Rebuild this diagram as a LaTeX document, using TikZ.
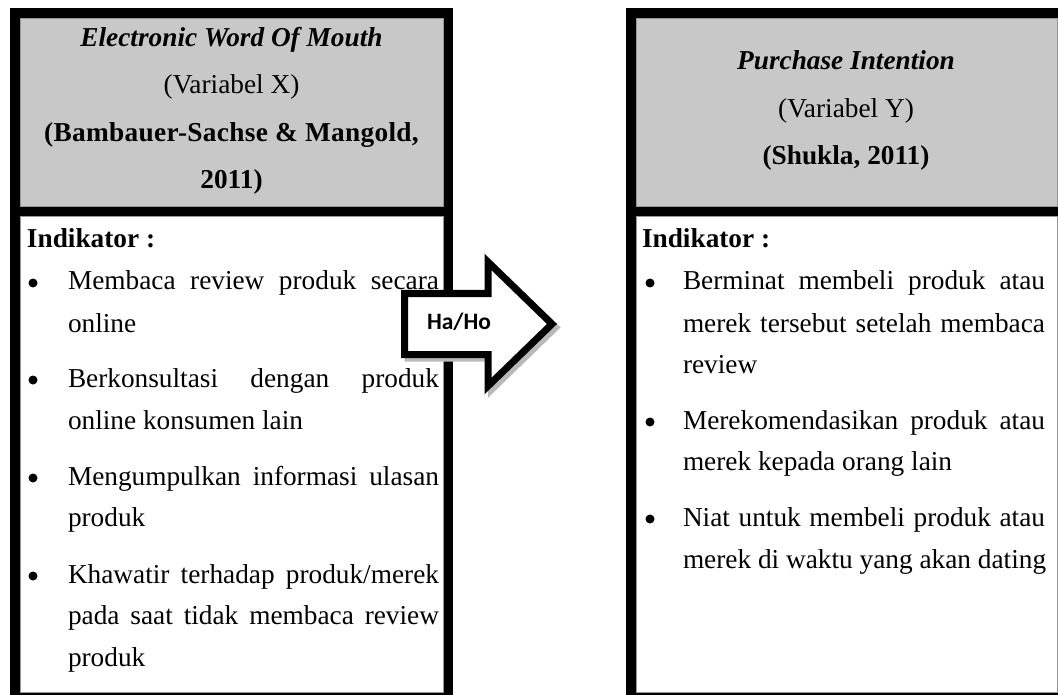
\documentclass[tikz,border=0pt]{standalone}
\usepackage{fontspec}
\setmainfont{Liberation Serif}
\newfontfamily\arrowfont{Carlito}
\newfontfamily\spacedfont[LetterSpace=1.2]{Liberation Serif}
\definecolor{hdrgray}{RGB}{200,200,200}
\definecolor{edgegray}{RGB}{150,150,150}
\definecolor{shadowgray}{RGB}{185,185,185}
\newcommand\jline[2]{\makebox[#1][s]{#2}}
\begin{document}
\begin{tikzpicture}[x=1pt,y=-1pt,
  txt/.style={anchor=base west, inner sep=0pt, outer sep=0pt, font=\fontsize{27.3}{31}\selectfont},
  hdr/.style={anchor=base, inner sep=0pt, outer sep=0pt, font=\fontsize{27.3}{31}\selectfont},
  bul/.style={circle, fill=black, inner sep=0pt, minimum size=9pt},
  hdrfill/.style={fill=hdrgray, draw=edgegray, line width=0.8pt},
  bodyfill/.style={fill=white, draw=edgegray, line width=0.8pt},
  arrowshape/.style={line width=7pt, line join=miter}]
\useasboundingbox (0,0) rectangle (1058,695);
\clip (0,0) rectangle (1058,695);
\fill[white] (0,0) rectangle (1058,695);

% left box
\fill[black] (10,8) rectangle (453,705);
\filldraw[hdrfill] (20,18) rectangle (443,206);
\filldraw[bodyfill] (20,216) rectangle (443,692);

% right box
\fill[black] (626,8) rectangle (1070,705);
\filldraw[hdrfill] (636,18) rectangle (1057,206);
\filldraw[bodyfill] (636,216) rectangle (1057,692);

% left header
\node[hdr] (lh1) at (231.5,46.5) {\textbf{\textit{Electronic Word Of Mouth}}};
\node[hdr] (lh2) at (231.5,94) {(Variabel X)};
\node[hdr] (lh3) at (231.5,141.5) {\spacedfont\bfseries (Bambauer-Sachse \& Mangold,};
\node[hdr] (lh4) at (231.5,189) {\textbf{2011)}};

% right header
\node[hdr] (rh1) at (846,70) {\textbf{\textit{Purchase Intention}}};
\node[hdr] (rh2) at (846,118) {(Variabel Y)};
\node[hdr] (rh3) at (846,165) {\textbf{(Shukla, 2011)}};

% left body
\node[txt] (li) at (27,248) {\textbf{Indikator :}};
\node[bul] (lb1) at (33,283) {};
\node[txt] (l1) at (68,290) {\jline{371pt}{Membaca review produk secara}};
\node[txt] (l2) at (68,332) {online};
\node[bul] (lb2) at (33,380) {};
\node[txt] (l3) at (68,387) {\jline{371pt}{Berkonsultasi dengan produk}};
\node[txt] (l4) at (68,429) {online konsumen lain};
\node[bul] (lb3) at (33,478) {};
\node[txt] (l5) at (68,485) {\jline{371pt}{Mengumpulkan informasi ulasan}};
\node[txt] (l6) at (68,526) {produk};
\node[bul] (lb4) at (33,576) {};
\node[txt] (l7) at (68,583) {\jline{371pt}{Khawatir terhadap produk/merek}};
\node[txt] (l8) at (68,624) {\jline{371pt}{pada saat tidak membaca review}};
\node[txt] (l9) at (68,666) {produk};

% right body
\node[txt] (ri) at (642,248) {\textbf{Indikator :}};
\node[bul] (rb1) at (650,283) {};
\node[txt] (r1) at (683,290) {\jline{362pt}{Berminat membeli produk atau}};
\node[txt] (r2) at (683,332) {\jline{362pt}{merek tersebut setelah membaca}};
\node[txt] (r3) at (683,373) {review};
\node[bul] (rb2) at (650,422) {};
\node[txt] (r4) at (683,429) {\jline{362pt}{Merekomendasikan produk atau}};
\node[txt] (r5) at (683,470) {merek kepada orang lain};
\node[bul] (rb3) at (650,519) {};
\node[txt] (r6) at (683,526) {\jline{362pt}{Niat untuk membeli produk atau}};
\node[txt] (r7) at (683,568) {merek di waktu yang akan dating};

% block arrow
\begin{scope}[shift={(3.5,3.5)}]
\filldraw[arrowshape, fill=shadowgray, draw=shadowgray]
  (404.5,293.5) -- (488,293.5) -- (488,262) -- (552,324) -- (488,386) -- (488,354.5) -- (404.5,354.5) -- cycle;
\end{scope}
\filldraw[arrowshape, fill=white, draw=black]
  (404.5,293.5) -- (488,293.5) -- (488,262) -- (552,324) -- (488,386) -- (488,354.5) -- (404.5,354.5) -- cycle;
\node[anchor=base, inner sep=0pt, font=\arrowfont\bfseries\fontsize{23.5}{26}\selectfont] (ha) at (459,329) {Ha/Ho};
\end{tikzpicture}
\end{document}
